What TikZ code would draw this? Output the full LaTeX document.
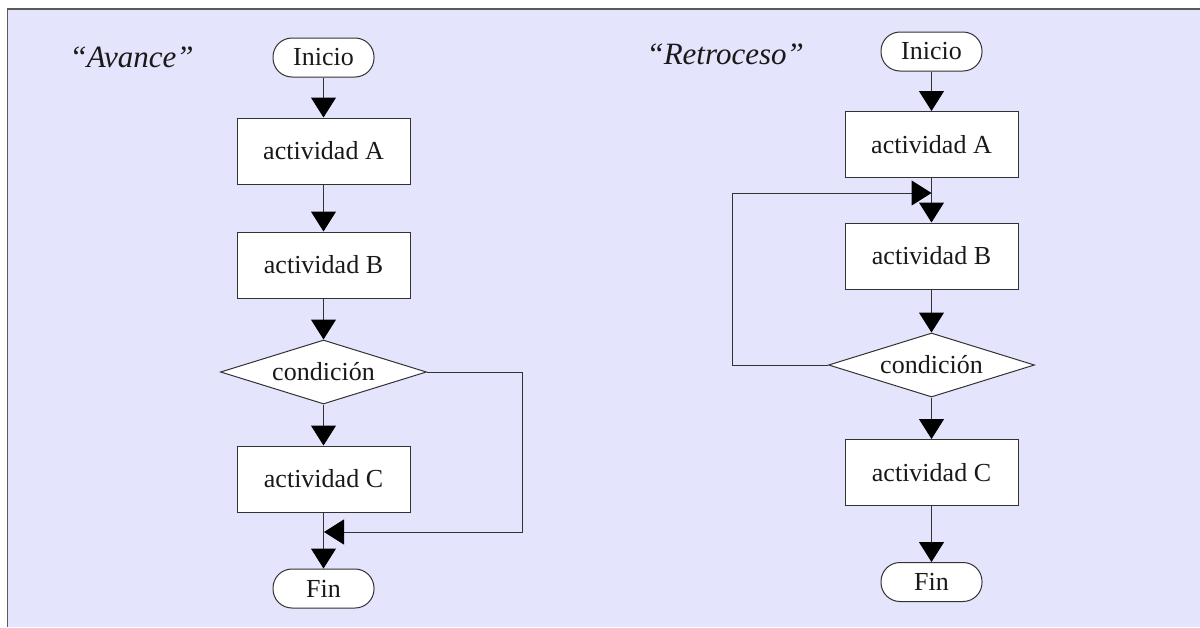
\documentclass[tikz,border=0pt]{standalone}
\usepackage{fontspec}
\setmainfont{Liberation Serif}
\usetikzlibrary{shapes.geometric,arrows.meta}
\definecolor{lav}{RGB}{228,228,252}
\definecolor{edge}{RGB}{50,50,50}
\begin{document}
\begin{tikzpicture}[x=1pt,y=-1pt,
  every node/.style={font=\fontsize{26}{30}\selectfont, text=black!90},
  actbox/.style={draw=edge, fill=white, line width=1pt, rectangle, inner sep=0pt, minimum width=173pt, minimum height=66pt},
  term/.style={draw=edge, fill=white, line width=1pt, rectangle, rounded corners=19pt, inner sep=0pt, minimum width=101pt, minimum height=39pt},
  decis/.style={draw=edge, fill=white, line width=1pt, diamond, shape aspect=3.2, inner sep=0pt, minimum width=206pt, minimum height=64pt},
  title/.style={font=\fontsize{31}{36}\selectfont\itshape, anchor=base west},
  flow/.style={draw=edge, line width=1pt, -{Triangle[length=20pt,width=25pt,fill=black,color=black]}},
  plain/.style={draw=edge, line width=1pt}]
\useasboundingbox (0,0) rectangle (1200,627);
\fill[lav] (7.5,9) rectangle (1200,627);
\draw[line width=1.5pt, black!65] (7.5,627) -- (7.5,9) -- (1200,9);
% left chart
\node[title] (t1) at (66,67) {“Avance”};
\node[term] (i1) at (323.5,57.5) {Inicio};
\node[actbox] (a1) at (323.5,151) {actividad A};
\node[actbox] (b1) at (323.5,265) {actividad B};
\node[decis] (c1) at (323.5,372) {condición};
\node[actbox] (d1) at (323.5,479) {actividad C};
\node[term] (f1) at (323.5,588.5) {Fin};
\draw[flow] (i1) -- (a1);
\draw[flow] (a1) -- (b1);
\draw[flow] (b1) -- (c1);
\draw[flow] (c1) -- (d1);
\draw[flow] (d1) -- (f1);
\coordinate (l1a) at (522,372);
\coordinate (l1b) at (522,532);
\coordinate (l1c) at (324,532);
\draw[flow] (c1.east) -- (l1a) -- (l1b) -- (l1c);
% right chart
\node[title] (t2) at (643,64) {“Retroceso”};
\node[term] (i2) at (931.5,51.5) {Inicio};
\node[actbox] (a2) at (931.5,144.5) {actividad A};
\node[actbox] (b2) at (931.5,256) {actividad B};
\node[decis] (c2) at (931.5,365) {condición};
\node[actbox] (d2) at (931.5,472.5) {actividad C};
\node[term] (f2) at (931.5,582) {Fin};
\draw[flow] (i2) -- (a2);
\draw[flow] (a2) -- (b2);
\draw[flow] (b2) -- (c2);
\draw[flow] (c2) -- (d2);
\draw[flow] (d2) -- (f2);
\coordinate (l2a) at (732,365);
\coordinate (l2b) at (732,193);
\coordinate (l2c) at (931.5,193);
\draw[flow] (c2.west) -- (l2a) -- (l2b) -- (l2c);
\end{tikzpicture}
\end{document}
